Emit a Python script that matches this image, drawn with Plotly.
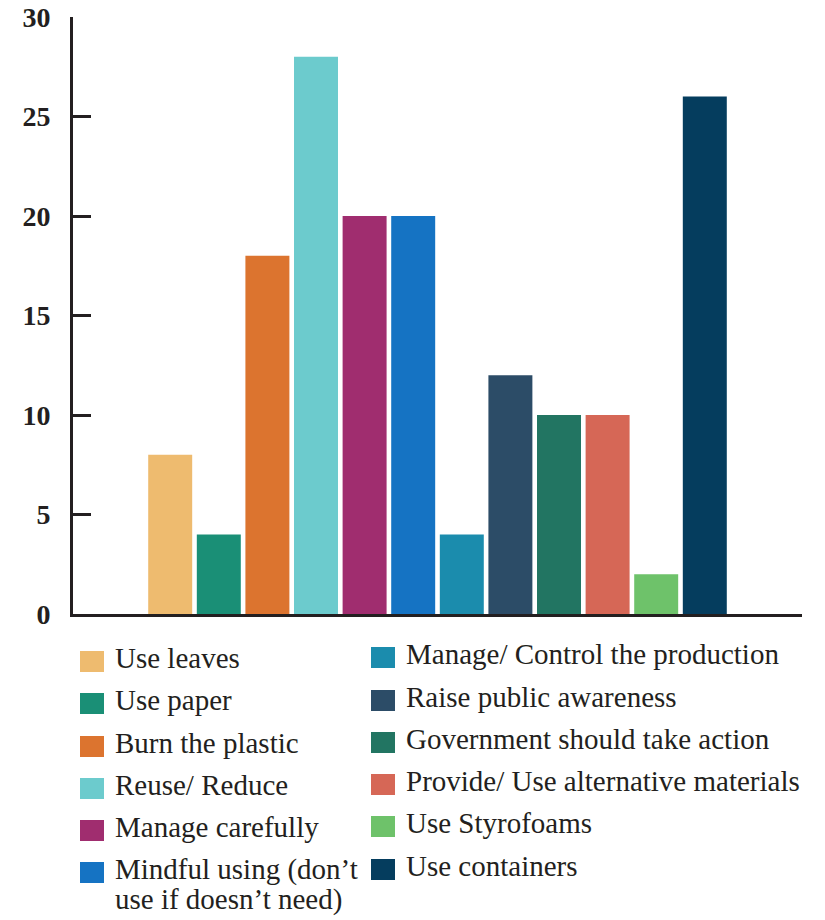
import plotly.graph_objects as go

categories = ["Use leaves", "Use paper", "Burn the plastic", "Reuse/ Reduce",
              "Manage carefully", "Mindful using (don’t use if doesn’t need)",
              "Manage/ Control the production", "Raise public awareness",
              "Government should take action", "Provide/ Use alternative materials",
              "Use Styrofoams", "Use containers"]
legend_lines = [["Use leaves"], ["Use paper"], ["Burn the plastic"], ["Reuse/ Reduce"],
                ["Manage carefully"], ["Mindful using (don’t", "use if doesn’t need)"],
                ["Manage/ Control the production"], ["Raise public awareness"],
                ["Government should take action"], ["Provide/ Use alternative materials"],
                ["Use Styrofoams"], ["Use containers"]]
values = [8, 4, 18, 28, 20, 20, 4, 12, 10, 10, 2, 26]
colors = ["#EEBB6F", "#1A8F76", "#DC742F", "#6CCBCD", "#A02D6F", "#1573C3",
          "#1B8CAD", "#2C4C67", "#227562", "#D66756", "#6EC26A", "#053D5E"]
y_ticks = [0, 5, 10, 15, 20, 25, 30]

OFF = 8  # page body margin
W, H = 825 - OFF, 920 - OFF
L, R, T = 73 - OFF, 23, 17 - OFF
B = H - (614 - OFF)
pw, ph = W - L - R, H - T - B

def px2x(p):
    return (p - OFF - L) / pw

def px2y(p):
    return (H - B - (p - OFF)) / ph

fig = go.Figure()
for i, (c, v, col) in enumerate(zip(categories, values, colors)):
    fig.add_trace(go.Bar(x=[i], y=[v], width=0.905, marker=dict(color=col, line=dict(width=0)),
                         name=c, showlegend=False))

font_fam = "Liberation Serif, Times New Roman, serif"
shapes, annots = [], []
col1_tops = [651, 693, 736, 778, 820, 862]
col2_tops = [647, 690, 732, 774, 816, 859]
for k in range(12):
    if k < 6:
        x0, top = 80, col1_tops[k]
    else:
        x0, top = 371, col2_tops[k - 6]
    shapes.append(dict(type="rect", xref="paper", yref="paper",
                       x0=px2x(x0), x1=px2x(x0 + 24), y0=px2y(top + 21), y1=px2y(top),
                       fillcolor=colors[k], line=dict(width=0)))
    for j, line in enumerate(legend_lines[k]):
        annots.append(dict(xref="paper", yref="paper", x=px2x(x0 + 33), y=px2y(top + 7 + 30 * j),
                           xanchor="left", yanchor="middle",
                           text=line, showarrow=False, align="left",
                           font=dict(family=font_fam, size=29, color="#231F20")))

fig.update_layout(
    width=W, height=H, margin=dict(l=L, r=R, t=T, b=B),
    plot_bgcolor="white", paper_bgcolor="white", barmode="overlay",
    shapes=shapes, annotations=annots,
    xaxis=dict(range=[-2, 13], showgrid=False, zeroline=False, showline=True, automargin=False,
               linecolor="#231F20", linewidth=3, tickvals=[13], ticktext=[""],
               ticks="inside", ticklen=14, tickwidth=3, tickcolor="#231F20"),
    yaxis=dict(range=[0, 30], showgrid=False, zeroline=False, showline=True, automargin=False,
               linecolor="#231F20", linewidth=3, tickvals=y_ticks,
               ticks="inside", ticklen=18, tickwidth=3, tickcolor="#231F20",
               ticklabeloverflow="allow",
               tickfont=dict(family=font_fam, size=28, color="#231F20", weight="bold"),
               ticklabelstandoff=14),
)
fig.write_html("out.html")
